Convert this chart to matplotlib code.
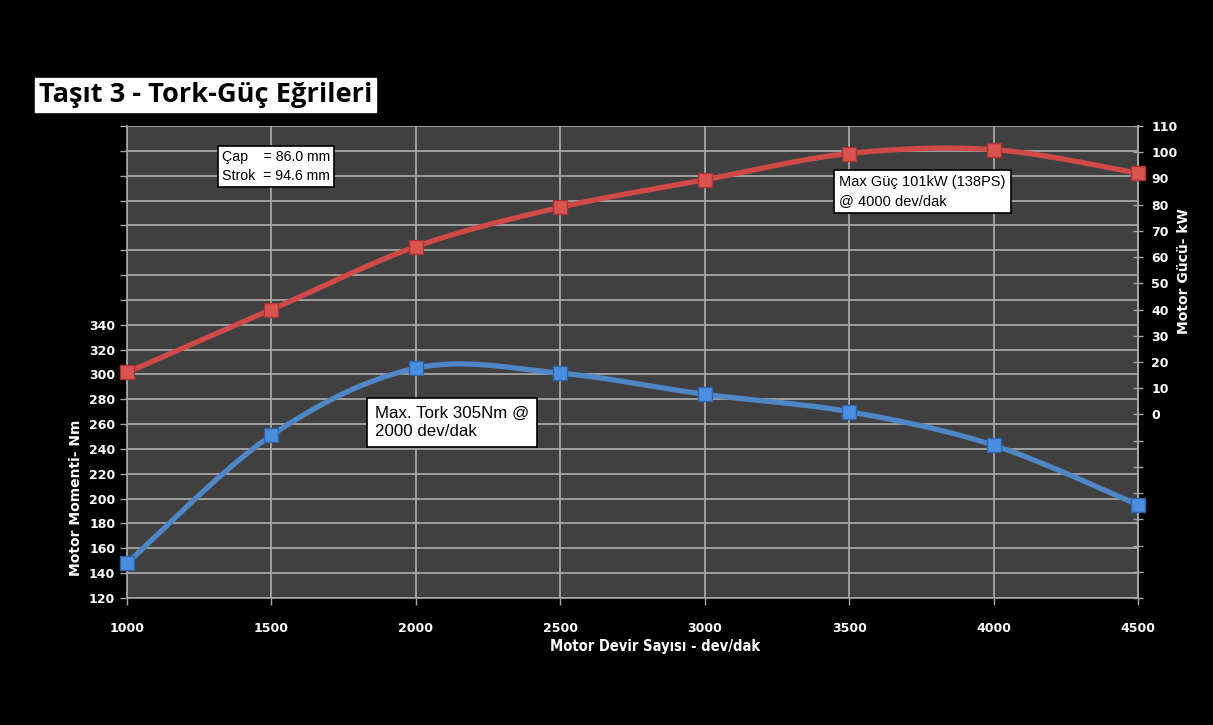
import matplotlib.pyplot as plt
import matplotlib.ticker as ticker
import numpy as np

# engine speed (rpm)
rpm = [1000, 1500, 2000, 2500, 3000, 3500, 4000, 4500]
# torque in Nm (left axis)
torque = [148, 251, 305, 301, 284, 270, 243, 195]
# power in kW (right axis)
power = [16, 40, 64, 79, 89.5, 99.5, 101, 92]

x_ticks = [1000, 1500, 2000, 2500, 3000, 3500, 4000, 4500]
torque_ticks = list(range(120, 501, 20))
torque_tick_labels = [str(t) if t <= 340 else '' for t in torque_ticks]
power_ticks = list(range(-70, 111, 10))
power_tick_labels = [str(p) if p >= 0 else '' for p in power_ticks]

TORQUE_COLOR = '#4f86c6'
POWER_COLOR = '#cf4a47'
GRID_COLOR = '#a6a6a6'


def smooth(xs, ys, n=40):
    # catmull-rom spline through the points, end points doubled like excel's smoothed line
    xs = np.asarray(xs, dtype=float)
    ys = np.asarray(ys, dtype=float)
    px = np.concatenate([[xs[0]], xs, [xs[-1]]])
    py = np.concatenate([[ys[0]], ys, [ys[-1]]])
    out_x, out_y = [], []
    t = np.linspace(0, 1, n)
    for i in range(1, len(px) - 2):
        for p, out in ((px, out_x), (py, out_y)):
            p0, p1, p2, p3 = p[i - 1], p[i], p[i + 1], p[i + 2]
            out.extend(0.5 * ((2 * p1) + (-p0 + p2) * t
                              + (2 * p0 - 5 * p1 + 4 * p2 - p3) * t ** 2
                              + (-p0 + 3 * p1 - 3 * p2 + p3) * t ** 3))
    return out_x, out_y


fig = plt.figure(figsize=(12.13, 7.25), dpi=100, facecolor='black')
ax = fig.add_axes([0.1047, 0.1752, 0.8335, 0.651])
ax2 = ax.twinx()

ax.set_xlim(1000, 4500)
ax.set_ylim(120, 500)
ax2.set_ylim(-70, 110)

ax.xaxis.set_major_locator(ticker.FixedLocator(x_ticks))
ax.yaxis.set_major_locator(ticker.FixedLocator(torque_ticks))
ax.yaxis.set_major_formatter(ticker.FixedFormatter(torque_tick_labels))
ax2.yaxis.set_major_locator(ticker.FixedLocator(power_ticks))
ax2.yaxis.set_major_formatter(ticker.FixedFormatter(power_tick_labels))

for a in (ax, ax2):
    for side, spine in a.spines.items():
        spine.set_color(GRID_COLOR)
        spine.set_linewidth(1.2)
    a.spines['top'].set_visible(False)
ax2.spines['left'].set_visible(False)
ax2.spines['bottom'].set_visible(False)

ax.tick_params(axis='both', colors=GRID_COLOR, length=5, width=1, direction='out')
ax2.tick_params(axis='y', colors=GRID_COLOR, length=7, width=1, direction='inout', pad=6)
for lbl in ax.get_xticklabels() + ax.get_yticklabels() + ax2.get_yticklabels():
    lbl.set_fontsize(9)
    lbl.set_fontweight('bold')
    lbl.set_color('white')
ax.tick_params(axis='x', pad=12)

# torque axes drawn on top, power axes carries the background
ax.set_zorder(ax2.get_zorder() + 1)
ax.patch.set_visible(False)
ax2.patch.set_visible(True)
ax2.patch.set_facecolor('#404040')
ax.grid(True, color=GRID_COLOR, linewidth=1.3, zorder=0)
ax.set_axisbelow(True)

# power curve (right axis), mapped onto the torque scale so it sits above the grid
def to_left(v):
    return (np.asarray(v, dtype=float) + 70) * 380 / 180 + 120


sx, sy = smooth(rpm, power)
ax.plot(sx, to_left(sy), color=POWER_COLOR, linewidth=3.8, zorder=3, solid_capstyle='round')
ax.plot(rpm, to_left(power), linestyle='none', marker='s', markersize=10, clip_on=False,
        markerfacecolor='#d9534f', markeredgecolor='#a83532', markeredgewidth=1, zorder=4)

# torque curve (left axis)
tx, ty = smooth(rpm, torque)
ax.plot(tx, ty, color=TORQUE_COLOR, linewidth=3.8, zorder=3, solid_capstyle='round')
ax.plot(rpm, torque, linestyle='none', marker='s', markersize=10, clip_on=False,
        markerfacecolor='#4a8ee0', markeredgecolor='#2f64a8', markeredgewidth=1, zorder=4)

# axis titles
fig.text(0.540, 0.108, 'Motor Devir Sayısı - dev/dak', ha='center', va='center',
         fontsize=10.5, fontweight='bold', color='white', fontstretch='condensed')
fig.text(0.063, 0.313, 'Motor Momenti- Nm', ha='center', va='center', rotation=90,
         fontsize=10, fontweight='bold', color='white')
fig.text(0.976, 0.626, 'Motor Gücü- kW', ha='center', va='center', rotation=90,
         fontsize=10, fontweight='bold', color='white')

# chart title
fig.text(0.032, 0.869, 'Taşıt 3 - Tork-Güç Eğrileri', ha='left', va='center',
         fontsize=19.6, fontweight='bold', color='black', family='Open Sans',
         bbox=dict(boxstyle='square,pad=0.15', facecolor='white', edgecolor='white'))

# info boxes
fig.text(0.183, 0.770, 'Çap    = 86.0 mm\nStrok  = 94.6 mm', ha='left', va='center',
         fontsize=10.2, color='black', family='Liberation Sans', linespacing=1.45,
         bbox=dict(boxstyle='square,pad=0.3', facecolor='white', edgecolor='black', linewidth=1.2))
fig.text(0.692, 0.736, 'Max Güç 101kW (138PS)\n@ 4000 dev/dak', ha='left', va='center',
         fontsize=10.5, color='black', family='Liberation Sans', linespacing=1.4,
         bbox=dict(boxstyle='square,pad=0.35', facecolor='white', edgecolor='black', linewidth=1.2))
fig.text(0.309, 0.417, 'Max. Tork 305Nm @\n2000 dev/dak  ', ha='left', va='center',
         fontsize=12.2, color='black', family='Liberation Sans', linespacing=1.3,
         bbox=dict(boxstyle='square,pad=0.45', facecolor='white', edgecolor='black', linewidth=1.2))

plt.savefig('out.png', dpi=100, facecolor='black')
